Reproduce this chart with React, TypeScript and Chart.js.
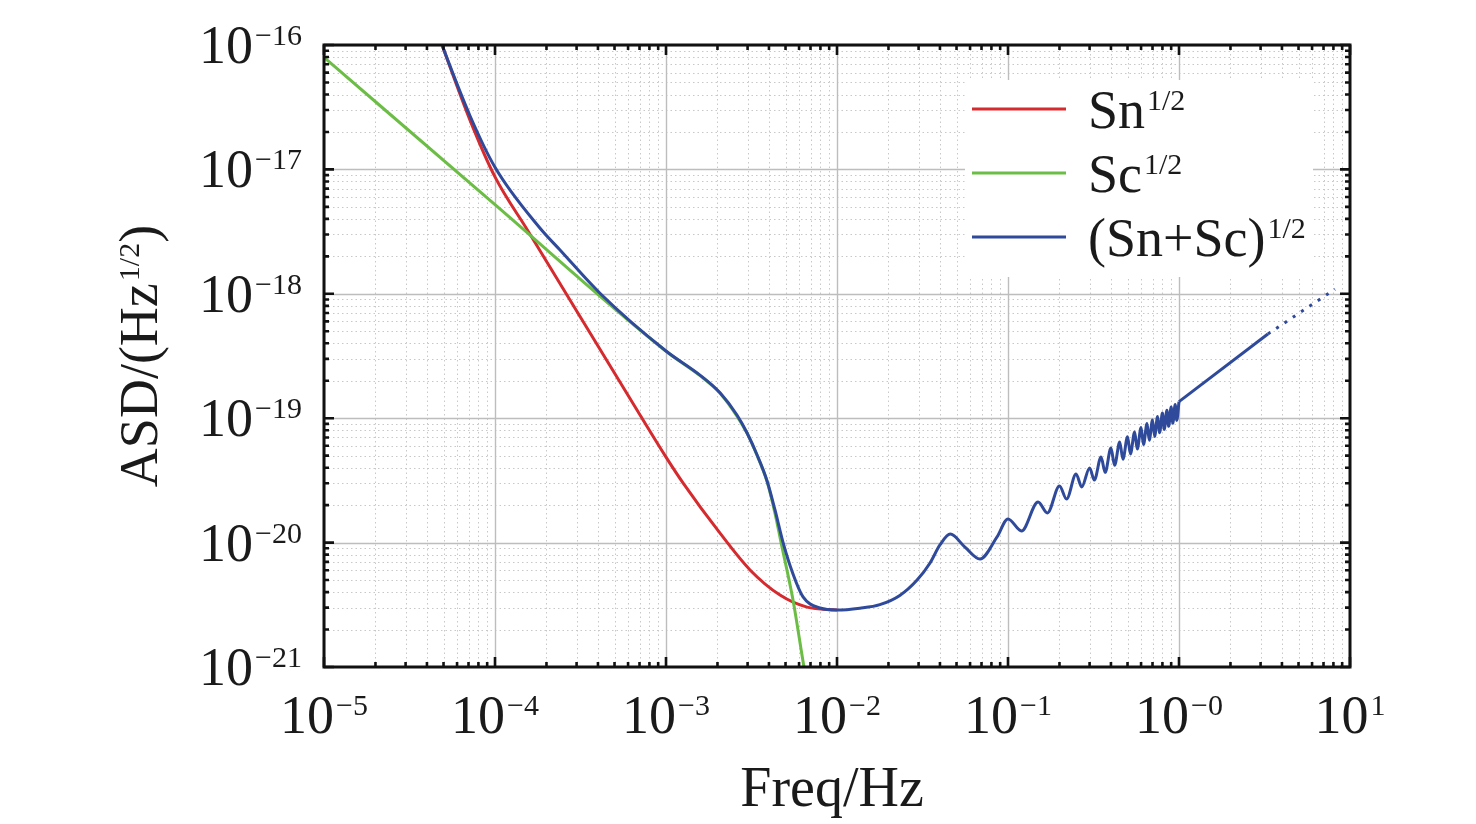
import React, { useEffect, useRef } from 'react';
import { Chart, registerables } from 'chart.js';

Chart.register(...registerables);

const FONT = '"Liberation Serif", "Times New Roman", Times, serif';

// ---- Data ----
// Sn^(1/2)
const snFreq = [4.4e-5, 4.9e-5, 7.14e-5, 1e-4, 1.56e-4, 7.05e-4, 1e-3, 1.26e-3, 2.07e-3, 3.1e-3, 4.64e-3, 6.68e-3, 1e-2];
const snASD = [1.5e-16, 1.0e-16, 2.49e-17, 8.7e-18, 3.2e-18, 1.06e-19, 4.87e-20, 3.01e-20, 1.19e-20, 6.03e-21, 3.79e-21, 3.03e-21, 2.87e-21];

// Sc^(1/2)
const scFreq = [1e-5, 1e-4, 1e-3, 1.58e-3, 2.07e-3, 2.6e-3, 2.98e-3, 3.41e-3, 3.9e-3, 4.34e-3, 4.71e-3, 5.53e-3, 6.41e-3, 6.95e-3];
const scASD = [7.96e-17, 5.2e-18, 3.45e-19, 2.2e-19, 1.59e-19, 1.04e-19, 7.55e-20, 5.02e-20, 3.1e-20, 1.72e-20, 1.0e-20, 3.46e-21, 1.0e-21, 5.4e-22];

// (Sn+Sc)^(1/2), up to 1 Hz
const sumFreq = [
  4.4e-5, 4.9e-5, 7.14e-5, 1e-4, 1.83e-4, 2.4e-4, 4.11e-4, 1e-3, 1.58e-3,
  2.07e-3, 2.6e-3, 2.98e-3, 3.41e-3, 3.9e-3, 4.34e-3, 4.83e-3, 5.53e-3, 6.33e-3, 7.96e-3,
  1e-2, 1.36e-2, 1.78e-2, 2.33e-2, 2.94e-2, 3.5e-2, 4.0e-2, 4.6e-2, 5.6e-2, 6.86e-2,
  8.63e-2, 0.1, 0.12, 0.15, 0.17, 0.2, 0.22, 0.25, 0.27, 0.3,
  0.32, 0.35, 0.37, 0.4, 0.42, 0.45, 0.47, 0.5, 0.52, 0.55,
  0.57, 0.6, 0.62, 0.65, 0.67, 0.7, 0.72, 0.75, 0.77, 0.8,
  0.82, 0.85, 0.87, 0.9, 0.92, 0.95, 0.97, 1.0,
];
const sumASD = [
  1.5e-16, 1.0e-16, 2.7e-17, 1.04e-17, 3.38e-18, 2.25e-18, 1.01e-18, 3.47e-19, 2.22e-19,
  1.6e-19, 1.06e-19, 7.6e-20, 5.06e-20, 3.13e-20, 1.83e-20, 1.01e-20, 5.6e-21, 3.66e-21, 2.98e-21,
  2.87e-21, 2.97e-21, 3.17e-21, 3.76e-21, 5.0e-21, 6.86e-21, 9.57e-21, 1.17e-20, 9.2e-21, 7.38e-21,
  1.11e-20, 1.55e-20, 1.24e-20, 2.12e-20, 1.73e-20, 2.85e-20, 2.24e-20, 3.56e-20, 2.8e-20, 3.98e-20,
  3.18e-20, 4.88e-20, 3.67e-20, 5.75e-20, 4.18e-20, 6.43e-20, 4.68e-20, 7.08e-20, 5.16e-20, 7.74e-20,
  5.65e-20, 8.4e-20, 6.15e-20, 9.05e-20, 6.64e-20, 9.69e-20, 7.14e-20, 1.034e-19, 7.64e-20, 1.1e-19,
  8.13e-20, 1.16e-19, 8.61e-20, 1.23e-19, 9.12e-20, 1.29e-19, 9.6e-20, 1.36e-19,
];

// (Sn+Sc)^(1/2), above 1 Hz (last segment dotted)
const tailFreq = [1.0, 3.31, 8.17];
const tailASD = [1.36e-19, 4.75e-19, 1.09e-18];

// Axis ticks
const xTickValues = [1e-5, 1e-4, 1e-3, 1e-2, 1e-1, 1, 10];
const xTickExps = ['\u22125', '\u22124', '\u22123', '\u22122', '\u22121', '\u22120', '1'];
const yTickValues = [1e-21, 1e-20, 1e-19, 1e-18, 1e-17, 1e-16];
const yTickExps = ['\u221221', '\u221220', '\u221219', '\u221218', '\u221217', '\u221216'];
const minorSteps = [2, 3, 4, 5, 6, 7, 8, 9];

const RED = '#d52a2e';
const GREEN = '#6cbd45';
const BLUE = '#2f4a9b';

const legendItems = [
  { base: 'Sn', sup: '1/2', color: RED },
  { base: 'Sc', sup: '1/2', color: GREEN },
  { base: '(Sn+Sc)', sup: '1/2', color: BLUE },
];

const MAIN_PX = 54;
const SUP_PX = 30;
const RAISE = 18;

const toPts = (fs: number[], vs: number[]) => fs.map((f, i) => ({ x: f, y: vs[i] }));

function drawPower(ctx: CanvasRenderingContext2D, base: string, sup: string, x: number, yBase: number, align: 'center' | 'right' | 'left', tail = '') {
  ctx.font = `${MAIN_PX}px ${FONT}`;
  const wb = ctx.measureText(base).width;
  const wt = tail ? ctx.measureText(tail).width : 0;
  ctx.font = `${SUP_PX}px ${FONT}`;
  const ws = ctx.measureText(sup).width;
  const gap = 2;
  const total = wb + gap + ws + wt;
  let start = x;
  if (align === 'center') start = x - total / 2;
  else if (align === 'right') start = x - total;
  ctx.textAlign = 'left';
  ctx.textBaseline = 'alphabetic';
  ctx.font = `${MAIN_PX}px ${FONT}`;
  ctx.fillText(base, start, yBase);
  ctx.font = `${SUP_PX}px ${FONT}`;
  ctx.fillText(sup, start + wb + gap, yBase - RAISE);
  if (tail) {
    ctx.font = `${MAIN_PX}px ${FONT}`;
    ctx.fillText(tail, start + wb + gap + ws, yBase);
  }
}

const decorPlugin = {
  id: 'decor',
  beforeDatasetsDraw(chart: any) {
    const { ctx, chartArea: a, scales } = chart;
    const xs = scales.x;
    const ys = scales.y;
    ctx.save();
    ctx.beginPath();
    ctx.rect(a.left, a.top, a.right - a.left, a.bottom - a.top);
    ctx.clip();
    // minor grid
    ctx.strokeStyle = '#c8c8c8';
    ctx.lineWidth = 1;
    ctx.setLineDash([1.5, 3]);
    ctx.beginPath();
    for (const v of xTickValues) {
      for (const m of minorSteps) {
        const val = v * m;
        if (val >= xs.max) continue;
        const px = Math.round(xs.getPixelForValue(val)) + 0.5;
        ctx.moveTo(px, a.top);
        ctx.lineTo(px, a.bottom);
      }
    }
    for (const v of yTickValues) {
      for (const m of minorSteps) {
        const val = v * m;
        if (val >= ys.max) continue;
        const py = Math.round(ys.getPixelForValue(val)) + 0.5;
        ctx.moveTo(a.left, py);
        ctx.lineTo(a.right, py);
      }
    }
    ctx.stroke();
    // major grid
    ctx.setLineDash([]);
    ctx.strokeStyle = '#bdbdbd';
    ctx.lineWidth = 1.4;
    ctx.beginPath();
    for (const v of xTickValues) {
      const px = Math.round(xs.getPixelForValue(v)) + 0.5;
      ctx.moveTo(px, a.top);
      ctx.lineTo(px, a.bottom);
    }
    for (const v of yTickValues) {
      const py = Math.round(ys.getPixelForValue(v)) + 0.5;
      ctx.moveTo(a.left, py);
      ctx.lineTo(a.right, py);
    }
    ctx.stroke();
    ctx.restore();
  },
  afterDatasetsDraw(chart: any) {
    const { ctx, chartArea: a, scales } = chart;
    const xs = scales.x;
    const ys = scales.y;
    ctx.save();
    // ticks (inward, all four sides)
    ctx.strokeStyle = '#111';
    ctx.lineWidth = 2.6;
    ctx.beginPath();
    for (const v of xTickValues) {
      const px = xs.getPixelForValue(v);
      ctx.moveTo(px, a.bottom); ctx.lineTo(px, a.bottom - 10);
      ctx.moveTo(px, a.top); ctx.lineTo(px, a.top + 10);
      for (const m of minorSteps) {
        const val = v * m;
        if (val >= xs.max) continue;
        const p = xs.getPixelForValue(val);
        ctx.moveTo(p, a.bottom); ctx.lineTo(p, a.bottom - 5);
        ctx.moveTo(p, a.top); ctx.lineTo(p, a.top + 5);
      }
    }
    for (const v of yTickValues) {
      const py = ys.getPixelForValue(v);
      ctx.moveTo(a.left, py); ctx.lineTo(a.left + 10, py);
      ctx.moveTo(a.right, py); ctx.lineTo(a.right - 10, py);
      for (const m of minorSteps) {
        const val = v * m;
        if (val >= ys.max) continue;
        const p = ys.getPixelForValue(val);
        ctx.moveTo(a.left, p); ctx.lineTo(a.left + 5, p);
        ctx.moveTo(a.right, p); ctx.lineTo(a.right - 5, p);
      }
    }
    ctx.stroke();
    // frame
    ctx.lineWidth = 3;
    ctx.strokeRect(a.left, a.top, a.right - a.left, a.bottom - a.top);

    // tick labels
    ctx.fillStyle = '#1a1a1a';
    xTickValues.forEach((v, i) => {
      drawPower(ctx, '10', xTickExps[i], xs.getPixelForValue(v), a.bottom + 66, 'center');
    });
    yTickValues.forEach((v, i) => {
      drawPower(ctx, '10', yTickExps[i], a.left - 22, ys.getPixelForValue(v) + 18, 'right');
    });

    // axis titles
    ctx.font = `56px ${FONT}`;
    ctx.textAlign = 'center';
    ctx.textBaseline = 'alphabetic';
    ctx.fillText('Freq/Hz', (a.left + a.right) / 2 - 5, a.bottom + 139);

    ctx.save();
    ctx.translate(a.left - 167, (a.top + a.bottom) / 2);
    ctx.rotate(-Math.PI / 2);
    drawPower(ctx, 'ASD/(Hz', '1/2', 0, 0, 'center', ')');
    ctx.restore();

    // legend
    const lx = a.right - 385;
    const ly = a.top + 35;
    ctx.fillStyle = '#ffffff';
    ctx.fillRect(lx, ly, 348, 197);
    legendItems.forEach((it, i) => {
      const yy = a.top + 64 + i * 64;
      ctx.strokeStyle = it.color;
      ctx.lineWidth = 3;
      ctx.beginPath();
      ctx.moveTo(a.right - 378, yy);
      ctx.lineTo(a.right - 284, yy);
      ctx.stroke();
      ctx.fillStyle = '#1a1a1a';
      drawPower(ctx, it.base, it.sup, a.right - 262, yy + 19, 'left');
    });
    ctx.restore();
  },
};

export default function App() {
  const canvasRef = useRef<HTMLCanvasElement | null>(null);

  useEffect(() => {
    if (!canvasRef.current) return;
    const chart = new Chart(canvasRef.current, {
      type: 'line',
      data: {
        datasets: [
          {
            label: '(Sn+Sc)^1/2',
            data: toPts(sumFreq, sumASD),
            borderColor: BLUE,
            borderWidth: 3,
            pointRadius: 0,
            cubicInterpolationMode: 'monotone',
            order: 0,
          },
          {
            label: '(Sn+Sc)^1/2 tail',
            data: toPts(tailFreq, tailASD),
            borderColor: BLUE,
            borderWidth: 3,
            pointRadius: 0,
            tension: 0,
            order: 0,
            segment: {
              borderDash: (c: any) => (c.p0DataIndex >= 1 ? [3, 7] : undefined),
            },
          },
          {
            label: 'Sc^1/2',
            data: toPts(scFreq, scASD),
            borderColor: GREEN,
            borderWidth: 3,
            pointRadius: 0,
            cubicInterpolationMode: 'monotone',
            order: 1,
          },
          {
            label: 'Sn^1/2',
            data: toPts(snFreq, snASD),
            borderColor: RED,
            borderWidth: 3,
            pointRadius: 0,
            cubicInterpolationMode: 'monotone',
            order: 2,
          },
        ] as any,
      },
      options: {
        animation: false,
        responsive: false,
        devicePixelRatio: 1,
        parsing: false as any,
        layout: { padding: { left: 324, right: 126, top: 45, bottom: 157 } },
        plugins: {
          legend: { display: false },
          tooltip: { enabled: false },
          title: { display: false },
        },
        events: [],
        scales: {
          x: {
            type: 'logarithmic',
            min: 1e-5,
            max: 10,
            display: false,
          },
          y: {
            type: 'logarithmic',
            min: 1e-21,
            max: 1e-16,
            display: false,
          },
        },
      } as any,
      plugins: [decorPlugin as any],
    });
    return () => chart.destroy();
  }, []);

  return (
    <div style={{ position: 'fixed', left: 0, top: 0, width: 1476, height: 824, background: '#ffffff' }}>
      <canvas ref={canvasRef} width={1476} height={824} style={{ width: 1476, height: 824, display: 'block' }} />
    </div>
  );
}
